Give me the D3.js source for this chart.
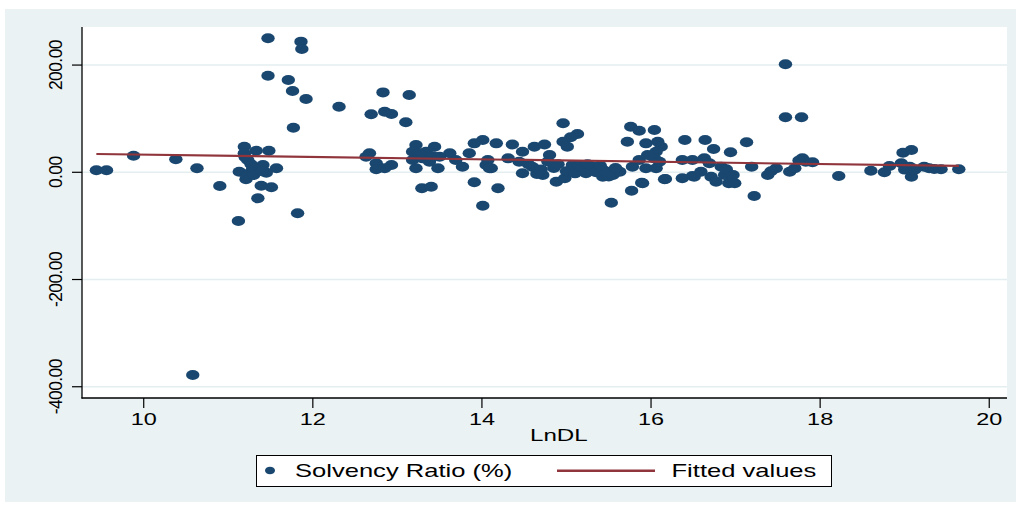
<!DOCTYPE html>
<html>
<head>
<meta charset="utf-8">
<script src="https://cdn.jsdelivr.net/npm/d3@7"></script>
<style>
  body { margin: 0; background: #fff; }
  text { font-family: "Liberation Sans", Arial, sans-serif; fill: #000; }
</style>
</head>
<body>
<div id="chart"></div>
<script>
// LnDL (x) and Solvency Ratio % (y)
var lnDL = [
  9.44, 9.56, 9.88, 10.38, 10.63, 10.90, 11.12, 10.58,
  11.47, 11.86, 11.87, 11.47, 11.71, 11.76, 11.92, 12.31, 11.77, 11.82, 11.35, 11.39, 11.51,
  11.19, 11.19, 11.33, 11.48, 11.23, 11.41, 11.57, 11.13, 11.25, 11.45, 11.21, 11.29,
  11.20, 11.27, 11.37, 11.22, 11.30, 11.40,
  12.83, 13.14, 12.69, 12.85, 12.93, 13.10,
  12.67, 12.63, 12.75, 12.75, 12.93, 12.85,
  13.22, 13.44, 13.18, 13.34, 13.62, 13.85, 13.18, 13.30, 13.38, 13.50, 13.69, 13.77,
  13.22, 13.48, 13.91, 14.01, 14.17, 14.05, 14.11, 13.91, 13.29, 13.40, 14.01, 14.19,
  13.26, 13.42, 14.07, 14.09,
  14.36, 14.62, 14.74, 14.48, 14.44, 14.31, 14.80, 14.48, 14.72, 14.88, 14.98,
  15.23, 15.43, 15.55, 15.63, 15.07, 15.31, 14.96, 15.13, 15.05, 14.96, 15.01, 15.53,
  14.60, 14.70, 14.85, 15.00, 15.10, 15.20, 15.35, 15.45, 15.50, 14.55, 14.65, 14.90,
  15.15, 15.40, 15.58, 14.78, 15.25,
  15.76, 15.86, 16.04, 15.72, 15.94, 16.08, 16.12, 16.06,
  15.77, 15.89, 16.16, 15.90, 16.17, 15.78, 15.94, 16.06, 15.86, 15.96, 16.04, 16.10,
  16.40, 16.64, 16.74, 16.94, 17.13, 16.37, 16.49, 16.63, 16.69,
  16.37, 16.49, 16.51, 16.59, 16.71, 16.77, 16.87, 16.97, 16.92, 16.99, 16.83, 16.89, 17.19, 17.22,
  17.38, 17.48, 17.59, 17.59, 17.78, 17.64, 17.70, 17.79, 17.91, 17.83, 18.22, 18.60, 18.76,
  18.82, 18.98, 19.08, 18.96, 19.06, 19.08, 19.23, 19.29, 19.43, 19.64,
  17.42, 17.75, 19.00, 19.12, 19.35
];
var solvency = [
  3.7, 3.7, 31, 24.3, 7.5, -25.6, -90.9, -378,
  250, 243.7, 230, 180, 172, 151.7, 136.8, 122.4, 83.2, -76.5, -48.5, -25, -28,
  47.8, 35.4, 40.3, 40.3, 23, 13.6, 7.5, 1.1, -1.9, -0.7, -13, 7.5,
  28, 15, 5, -8, -5, 2,
  149, 144, 108.2, 113, 108.8, 93.3,
  35.4, 29.1, 16.8, 5.6, 13.6, 7.5,
  51, 47.8, 38.4, 38.4, 35.4, 35.4, 23, 26, 19.8, 29.1, 23, 10.5,
  7.5, 7.5, 54, 60.3, 54, 13.6, 7.5, -18.7, -29.9, -26.9, -62.3, -29.9,
  35.4, 30, 23, 7.5,
  52, 47.8, 52, 38.4, 19.8, 26, 32.3, -1.9, -5, -17.5, -11.2,
  -1.9, -8.2, -5, 1.1, 13.6, 10.5, 91.4, 71.5, 65.3, 57, 47.8, -56.7,
  10, 5, 8, 2, -2, 5, 0, 3, -8, 15, -3, 15,
  12, 12, 8, 20, 15,
  85, 77.6, 79, 57, 54, 57, 47.8, 38.4,
  -34.3, -19.4, -13, -20.5, -12.5, 10.5, 7.5, 7.5, 23, 32.3, 26, 19.8,
  60.3, 60.3, 43.5, 37.3, 56, 23, 23, 26, 16.8,
  -11.2, -6.9, -8.2, 1.1, -8.2, -17.5, -5, -5, -20.5, -20.5, 10.5, 5.6, 10.5, -44.2,
  -5, 7.5, 201.5, 102.6, 102.6, 1.1, 7.5, 26, 18.7, 19.8, -6.9, 3, 0,
  11.8, 36.6, 41.6, 16.8, 10.5, -8.2, 10.5, 7.5, 5.6, 5.6,
  2, 22, 5, 5, 6
];
// fitted values at the ends of the data range
var fitX = [9.44, 19.64];
var fitY = [34.1, 11.8];

var xTicks = [10, 12, 14, 16, 18, 20];
var yTicks = [200, 0, -200, -400];
var yTickLabels = ["200.00", "0.00", "-200.00", "-400.00"];
var xTitle = "LnDL";
var legendLabels = ["Solvency Ratio (%)", "Fitted values"];

var W = 1021, H = 507;
var plot = {left: 82, right: 1007, top: 27, bottom: 398};
var sx = 1.42; // the picture is stretched sideways

var navy = "#1a476f", maroon = "#90353b", panel = "#eaf2f3";

var svg = d3.select("#chart").append("svg")
  .attr("width", W).attr("height", H);

svg.append("rect")
  .attr("x", 5).attr("y", 9).attr("width", 1011).attr("height", 493)
  .attr("fill", panel);

svg.append("rect")
  .attr("x", plot.left).attr("y", plot.top)
  .attr("width", plot.right - plot.left).attr("height", plot.bottom - plot.top)
  .attr("fill", "#fff");

var xScale = d3.scaleLinear().domain([9.27, 20.21]).range([plot.left, plot.right]);
var yScale = d3.scaleLinear().domain([-421, 271]).range([plot.bottom, plot.top]);

// grid lines
svg.append("g").selectAll("line")
  .data(yTicks).enter().append("line")
  .attr("x1", plot.left).attr("x2", plot.right)
  .attr("y1", function(d) { return yScale(d); })
  .attr("y2", function(d) { return yScale(d); })
  .attr("stroke", "#e4eef0").attr("stroke-width", 1.6);

// points
var pts = lnDL.map(function(d, i) { return {x: d, y: solvency[i]}; });
svg.append("g").selectAll("ellipse")
  .data(pts).enter().append("ellipse")
  .attr("cx", function(d) { return xScale(d.x); })
  .attr("cy", function(d) { return yScale(d.y); })
  .attr("rx", 6.7).attr("ry", 5)
  .attr("fill", navy);

// fitted line
var line = d3.line()
  .x(function(d) { return xScale(d[0]); })
  .y(function(d) { return yScale(d[1]); });
svg.append("path")
  .attr("d", line(fitX.map(function(d, i) { return [d, fitY[i]]; })))
  .attr("fill", "none").attr("stroke", maroon).attr("stroke-width", 2.2);

// y axis
var yAxis = svg.append("g");
yAxis.append("line")
  .attr("x1", plot.left).attr("x2", plot.left)
  .attr("y1", plot.top).attr("y2", plot.bottom + 0.5)
  .attr("stroke", "#000").attr("stroke-width", 1.3);
yAxis.selectAll(".tick").data(yTicks).enter().append("line")
  .attr("x1", plot.left - 10).attr("x2", plot.left)
  .attr("y1", function(d) { return yScale(d); })
  .attr("y2", function(d) { return yScale(d); })
  .attr("stroke", "#000").attr("stroke-width", 1.2);
yAxis.selectAll("text").data(yTicks).enter().append("text")
  .attr("transform", function(d) { return "translate(62," + yScale(d) + ") rotate(-90)"; })
  .attr("text-anchor", "middle")
  .style("font-size", "17.5px")
  .style("letter-spacing", "-0.6px")
  .text(function(d, i) { return yTickLabels[i]; });

// x axis
var xAxis = svg.append("g");
xAxis.append("line")
  .attr("x1", plot.left - 0.5).attr("x2", plot.right)
  .attr("y1", plot.bottom).attr("y2", plot.bottom)
  .attr("stroke", "#000").attr("stroke-width", 1.3);
xAxis.selectAll(".tick").data(xTicks).enter().append("line")
  .attr("x1", function(d) { return xScale(d); })
  .attr("x2", function(d) { return xScale(d); })
  .attr("y1", plot.bottom).attr("y2", plot.bottom + 10)
  .attr("stroke", "#000").attr("stroke-width", 1.2);
xAxis.selectAll("text").data(xTicks).enter().append("text")
  .attr("transform", function(d) { return "translate(" + xScale(d) + ",424.5) scale(" + sx + ",1)"; })
  .attr("text-anchor", "middle")
  .style("font-size", "16.5px")
  .text(function(d) { return d; });

svg.append("text")
  .attr("transform", "translate(" + xScale(14.91) + ",441) scale(" + sx + ",1)")
  .attr("text-anchor", "middle")
  .style("font-size", "17px")
  .text(xTitle);

// legend
var lg = svg.append("g");
lg.append("rect")
  .attr("x", 256.5).attr("y", 455.5).attr("width", 575).attr("height", 31)
  .attr("fill", "#fff").attr("stroke", "#000").attr("stroke-width", 1);
lg.append("ellipse")
  .attr("cx", 270).attr("cy", 470.5).attr("rx", 5).attr("ry", 3.8)
  .attr("fill", navy);
lg.append("text")
  .attr("transform", "translate(295,477) scale(" + sx + ",1)")
  .style("font-size", "18px")
  .text(legendLabels[0]);
lg.append("line")
  .attr("x1", 557).attr("x2", 655).attr("y1", 470.7).attr("y2", 470.7)
  .attr("stroke", maroon).attr("stroke-width", 2.4);
lg.append("text")
  .attr("transform", "translate(671.5,477) scale(" + sx + ",1)")
  .style("font-size", "18px")
  .text(legendLabels[1]);
</script>
</body>
</html>
